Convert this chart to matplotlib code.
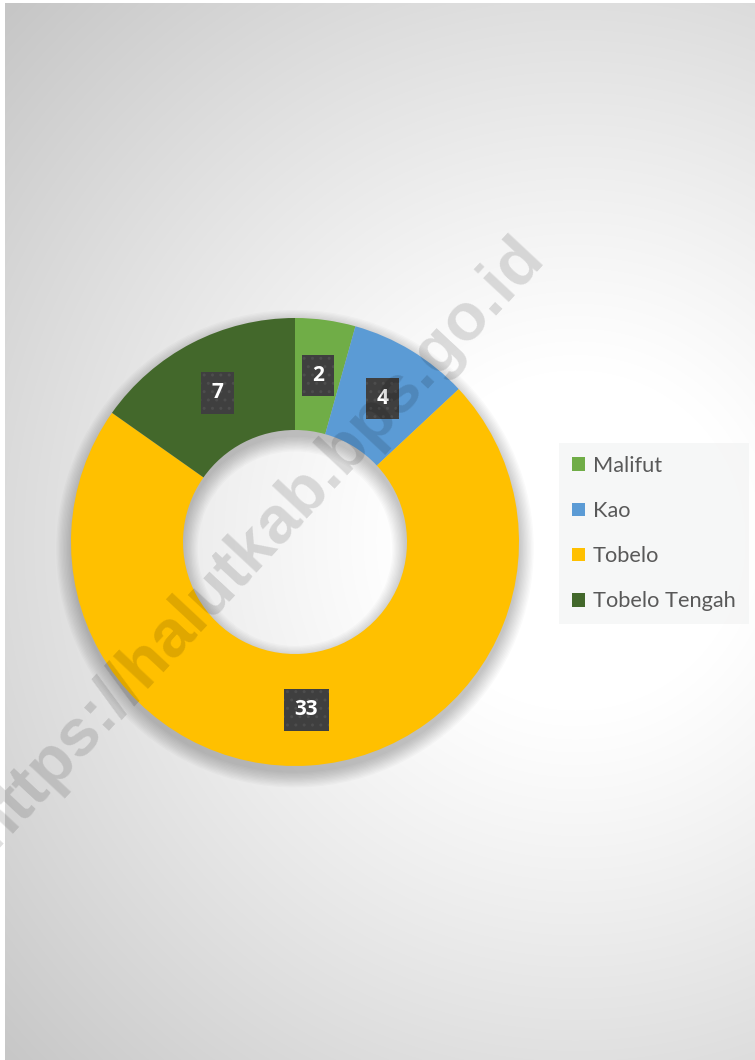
import numpy as np
import matplotlib
matplotlib.use("Agg")
import matplotlib.pyplot as plt
from matplotlib.patches import Wedge

# ---- data ----
categories = ["Malifut", "Kao", "Tobelo", "Tobelo Tengah"]
values = [2, 4, 33, 7]
colors = ["#70AD47", "#5B9BD5", "#FFC000", "#43682B"]
watermark = "https://halutkab.bps.go.id"

W, H, DPI = 755, 1060, 100
fig = plt.figure(figsize=(W / DPI, H / DPI), dpi=DPI)
fig.patch.set_facecolor("white")

# ---- background radial gradient ----
bg = fig.add_axes([5 / W, 0, (W - 5) / W, 1 - 3 / H])
yy, xx = np.mgrid[3:H, 5:W]
d = np.hypot(xx - 575, yy - 540)
t = np.clip((d - 170) / (780 - 170), 0, 1) ** 1.1
g = 1 - (57 / 255) * t
bg.imshow(np.dstack([g, g, g]), aspect="auto", extent=(0, 1, 0, 1), origin="upper")
bg.set_axis_off()

# ---- donut ----
cx, cy, R = 295, 542, 224
ax = fig.add_axes([(cx - R) / W, (H - cy - R) / H, 2 * R / W, 2 * R / H])
ax.set_facecolor("none")

# soft shadow
for i in range(12):
    e = 0.006 * i
    ax.add_patch(Wedge((0.0, -0.03), 1.0 + e, 0, 360, width=0.5 + 2 * e,
                       facecolor="black", edgecolor="none", alpha=0.02, zorder=1,
                       clip_on=False))

wedges, _ = ax.pie(values, colors=colors, startangle=90, counterclock=False,
                   radius=1.0, wedgeprops=dict(width=0.5, edgecolor="none"))
for w in wedges:
    w.set_zorder(2)
    w.set_clip_on(False)
ax.set_xlim(-1, 1)
ax.set_ylim(-1, 1)
ax.set_aspect("equal")
ax.set_axis_off()

# data labels
total = sum(values)
cum = 0
for v in values:
    mid = 90 - (cum + v / 2) / total * 360
    cum += v
    r = 0.75
    ax.text(r * np.cos(np.radians(mid)), r * np.sin(np.radians(mid)), str(v),
            ha="center", va="center", color="white", fontsize=15,
            fontweight="bold", family=["Open Sans", "DejaVu Sans"], zorder=6,
            bbox=dict(boxstyle="square,pad=0.5", fc="#3f3f3f", ec="#4d4d4d",
                      lw=0, hatch=".."))

# ---- watermark ----
fig.text(257 / W, 1 - 543 / H, watermark, rotation=47, ha="center", va="center",
         fontsize=48, fontweight="bold", family=["Liberation Sans", "DejaVu Sans"],
         color="black", alpha=0.13, zorder=5, rotation_mode="anchor")

# ---- legend ----
leg = fig.legend(wedges, categories, loc="upper left",
                 bbox_to_anchor=(559 / W, 1 - 443 / H), bbox_transform=fig.transFigure,
                 borderaxespad=0, frameon=True, fancybox=False,
                 prop=dict(family=["Lato", "DejaVu Sans"], size=15.7),
                 handlelength=0.6, handleheight=0.6, handletextpad=0.35,
                 labelspacing=1.15, borderpad=0.6)
leg.get_frame().set_facecolor("#f4f5f5")
leg.get_frame().set_edgecolor("none")
leg.get_frame().set_alpha(0.8)
for t_ in leg.get_texts():
    t_.set_color("#595959")

fig.savefig("out.png", dpi=DPI)
